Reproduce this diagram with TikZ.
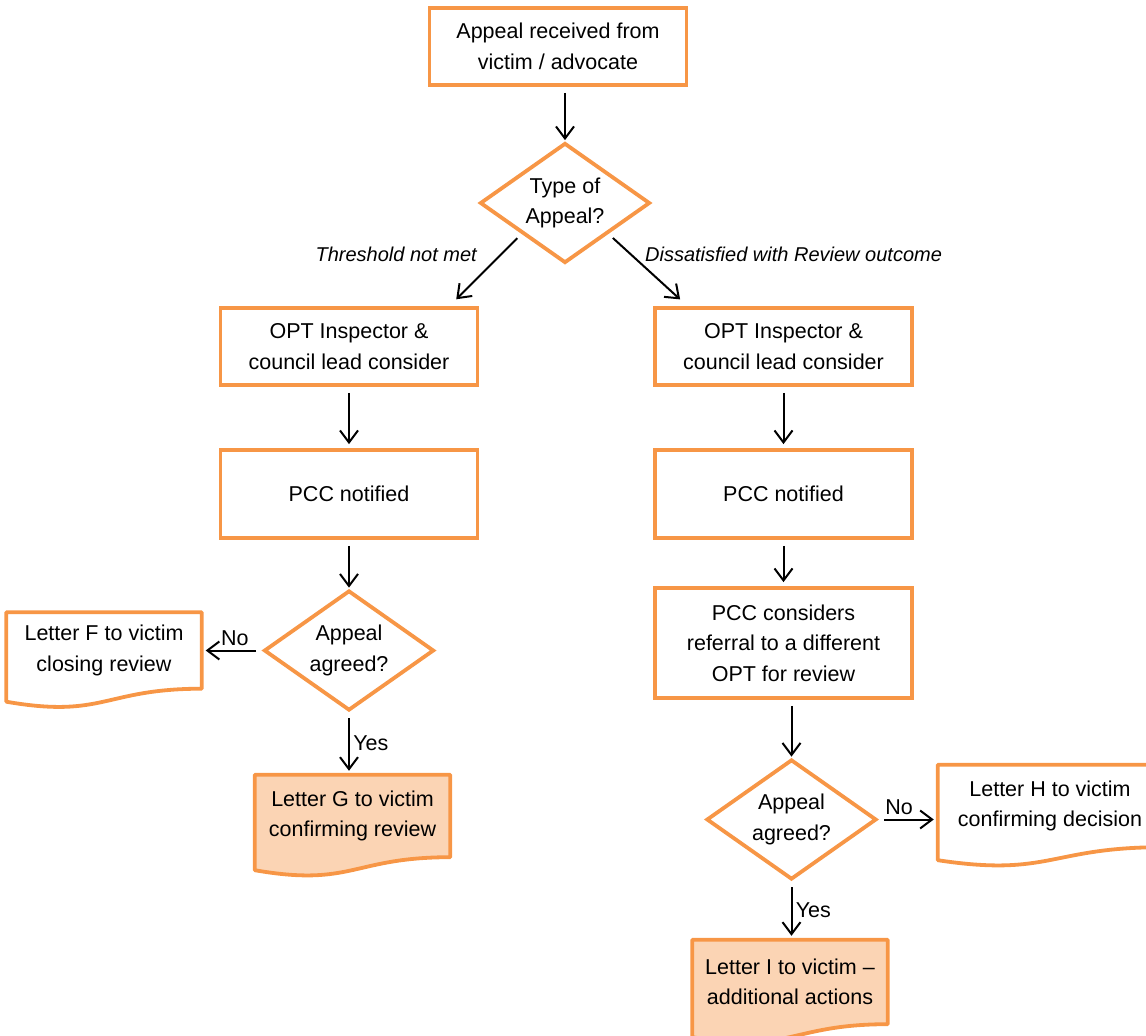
\documentclass[tikz,border=0pt]{standalone}
\usepackage{fontspec}
\setmainfont{Liberation Sans}
\usetikzlibrary{arrows.meta,positioning,calc,shapes.geometric,backgrounds}
\definecolor{apporange}{RGB}{247,150,70}
\definecolor{appfill}{RGB}{251,212,180}
\newcommand*{\bigtxt}{\fontsize{21.5}{30.5}\selectfont}
\newcommand*{\labtxt}{\fontsize{20}{24}\selectfont\itshape}

\begin{document}
\begin{tikzpicture}[x=1pt, y=1pt, >={Straight Barb[length=12pt,width=18pt]}, font=\bigtxt, node distance=150pt]
\tikzstyle{box}=[rectangle, draw=apporange, line width=3.8pt, minimum width=257pt, minimum height=77pt, align=center]
\tikzstyle{decision}=[diamond, draw=apporange, line width=3.8pt, aspect=1.42, minimum width=170pt, minimum height=120pt, inner sep=0pt, align=center]
\tikzstyle{letter}=[rectangle, minimum width=195pt, minimum height=82pt, align=center]
\tikzstyle{flow}=[->, black, line width=2pt, shorten <=6pt, shorten >=4pt]
\useasboundingbox (0,0) rectangle (1146,-1036);
\node[box]      (recv) at (558,-46.5)                                   {Appeal received from\\victim / advocate};
\node[decision] (type)  [below of=recv, node distance=156.5pt, xshift=7pt]   {Type of\\Appeal?};
\node[box]      (optL)  [below of=type, node distance=143.5pt, xshift=-216pt] {OPT Inspector \&\\council lead consider};
\node[box]      (optR)  [below of=type, node distance=143.5pt, xshift=218.5pt] {OPT Inspector \&\\council lead consider};
\node[box, minimum height=88pt] (pccL) [below of=optL, node distance=147.5pt] {PCC notified};
\node[box, minimum height=88pt] (pccR) [below of=optR, node distance=147.5pt] {PCC notified};
\node[decision] (agrL)  [below of=pccL, node distance=156.5pt]            {Appeal\\agreed?};
\node[letter, minimum height=76pt] (letF) [left of=agrL, node distance=245pt] {Letter F to victim\\closing review};
\node[letter]   (letG)  [below of=agrL, node distance=165.5pt, xshift=3.5pt] {Letter G to victim\\confirming review};
\node[box, minimum height=110pt] (consR) [below of=pccR, node distance=149pt] {PCC considers\\referral to a different\\OPT for review};
\node[decision] (agrR)  [below of=consR, node distance=176.5pt, xshift=8pt] {Appeal\\agreed?};
\node[letter, minimum width=224pt] (letH) [right of=agrR, node distance=258.5pt, yshift=13.5pt] {Letter H to victim\\confirming decision};
\node[letter, minimum height=84pt] (letI) [below of=agrR, node distance=162.5pt, xshift=-1.5pt] {Letter I to victim –\\additional actions};

% letter outlines with wavy bottom
\begin{scope}[on background layer]
\foreach \n/\c in {letF/white, letG/appfill, letH/white, letI/appfill}
  \draw[draw=apporange, line width=3.8pt, fill=\c, line join=round]
    ([yshift=-13pt]\n.south west) -- (\n.north west) -- (\n.north east) -- (\n.south east)
    .. controls (\n.south) and ([yshift=-30pt]\n.south) .. ([yshift=-13pt]\n.south west) -- cycle;
\end{scope}

\path
(recv.south -| type.north) edge[flow, shorten >=1pt] (type.north)
(type.south west) edge[flow] node[pos=0.3, left=20pt, font=\labtxt] {Threshold not met} ([xshift=-26pt, yshift=4pt]optL.north east)
(type.south east) edge[flow] node[pos=0.3, right=10pt, font=\labtxt] {Dissatisfied with Review outcome} ([xshift=30pt, yshift=4pt]optR.north west)
(optL) edge[flow]  (pccL)
(optR) edge[flow]  (pccR)
(pccL) edge[flow, shorten >=1pt] (agrL)
(pccR) edge[flow]  (consR)
(agrL.west) edge[flow] node[pos=0.45, above] {No} (letF.east)
(agrL.south) edge[flow] node[right] {Yes} (agrL.south |- letG.north)
(consR.south -| agrR.north) edge[flow, shorten >=1pt] (agrR.north)
(agrR.east) edge[flow] node[pos=0.35, above] {No} (agrR.east -| letH.west)
(agrR.south) edge[flow] node[right] {Yes} (agrR.south |- letI.north);
\end{tikzpicture}
\end{document}
